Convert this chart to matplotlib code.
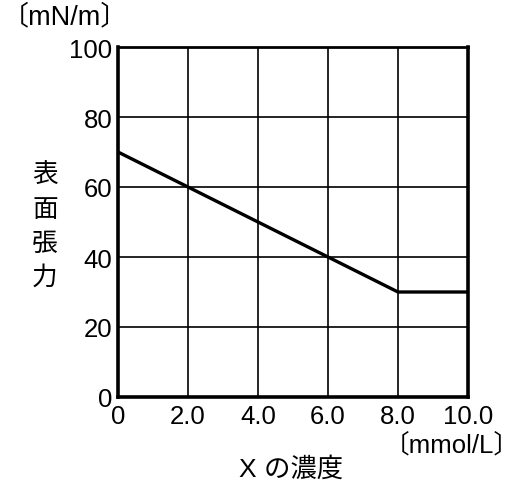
import matplotlib
matplotlib.use('Agg')
import matplotlib.pyplot as plt

plt.rcParams['font.family'] = ['Liberation Sans', 'Noto Sans CJK JP']

# concentration of X [mmol/L] and surface tension [mN/m]
conc = [0.0, 8.0, 10.0]
tension = [70.0, 30.0, 30.0]

x_ticks = [0, 2, 4, 6, 8, 10]
x_labels = ['0', '2.0', '4.0', '6.0', '8.0', '10.0']
y_ticks = [0, 20, 40, 60, 80, 100]
y_labels = ['0', '20', '40', '60', '80', '100']

fig = plt.figure(figsize=(5.22, 4.85), dpi=100)
ax = fig.add_axes([118 / 522, 1 - 398 / 485, 350 / 522, 350 / 485])

ax.plot(conc, tension, color='black', lw=2.4, solid_capstyle='butt')

ax.set_xlim(0, 10)
ax.set_ylim(0, 100)
ax.set_xticks(x_ticks)
ax.set_xticklabels(x_labels)
ax.set_yticks(y_ticks)
ax.set_yticklabels(y_labels)
ax.tick_params(length=0, labelsize=18.5)
ax.tick_params(axis='x', pad=5)
ax.tick_params(axis='y', pad=4)
ax.grid(True, color='black', lw=1.2)
ax.set_axisbelow(True)
for side in ['left', 'bottom', 'right']:
    ax.spines[side].set_linewidth(2.6)
ax.spines['top'].set_linewidth(2.0)

fig.text(65 / 522, 1 - 17 / 485, '〔mN/m〕', fontsize=19.5, ha='center', va='center')
for i, ch in enumerate('表面張力'):
    fig.text(45 / 522, 1 - (176 + i * 34) / 485, ch, fontsize=18.5, ha='center', va='center')
fig.text(291 / 522, 1 - 469 / 485, 'X の濃度', fontsize=19, ha='center', va='center')
fig.text(452 / 522, 1 - 445 / 485, '〔mmol/L〕', fontsize=18.5, ha='center', va='center')

fig.savefig('out.png', dpi=100)
